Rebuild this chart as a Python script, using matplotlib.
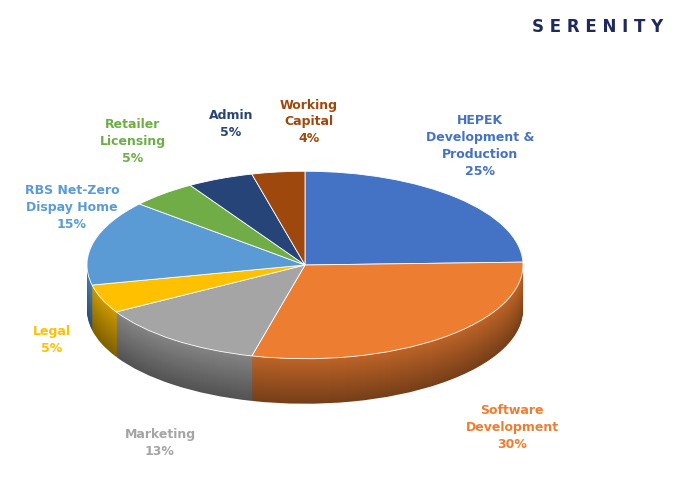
import numpy as np
import matplotlib.pyplot as plt
from matplotlib.colors import to_rgb
from matplotlib.transforms import Affine2D

labels = ["HEPEK\nDevelopment &\nProduction\n25%", "Software\nDevelopment\n30%", "Marketing\n13%",
          "Legal\n5%", "RBS Net-Zero\nDispay Home\n15%", "Retailer\nLicensing\n5%", "Admin\n5%",
          "Working\nCapital\n4%"]
values = [25, 30, 13, 5, 15, 5, 5, 4]
colors = ["#4472C4", "#ED7D31", "#A5A5A5", "#FFC000", "#5B9BD5", "#70AD47", "#264478", "#9E480E"]
# label positions (pixels from top-left)
label_xy = [(480, 146), (512, 427), (160, 443), (52, 340), (72, 208), (133, 142), (231, 124), (309, 122)]

fig = plt.figure(figsize=(6.83, 4.83), dpi=100)
ax = fig.add_axes([0, 0, 1, 1])

cx, cy, r, squash, depth = 305, 483 - 265, 218, 0.43, 45
squeeze = Affine2D().translate(-cx, -cy).scale(1, squash).translate(cx, cy) + ax.transData

def shade(c, f):
    return tuple(np.array(to_rgb(c)) * f)

# side walls: stacked darker pies
for off in np.arange(depth, 0, -1.0):
    f = 0.5 + 0.3 * (1 - off / depth)
    wedges, _ = ax.pie(values, colors=[shade(c, f) for c in colors], startangle=90,
                       counterclock=False, radius=r, center=(cx, cy - off / squash),
                       frame=True)
    for w in wedges:
        w.set_transform(squeeze)

wedges, _ = ax.pie(values, colors=colors, startangle=90, counterclock=False,
                   radius=r, center=(cx, cy), frame=True,
                   wedgeprops=dict(edgecolor="white", linewidth=0.6))
for w in wedges:
    w.set_transform(squeeze)

ax.set_xlim(0, 683)
ax.set_ylim(0, 483)
ax.set_aspect("auto")
ax.axis("off")

for lab, (x, y), c in zip(labels, label_xy, colors):
    ax.text(x, 483 - y, lab, color=c, fontsize=9, fontweight="bold", ha="center",
            va="center", linespacing=1.4, family="DejaVu Sans")

ax.text(598, 483 - 27, "S E R E N I T Y", color="#1F2A5A", fontsize=12, fontweight="bold",
        ha="center", va="center")

fig.savefig("out.png", dpi=100)
